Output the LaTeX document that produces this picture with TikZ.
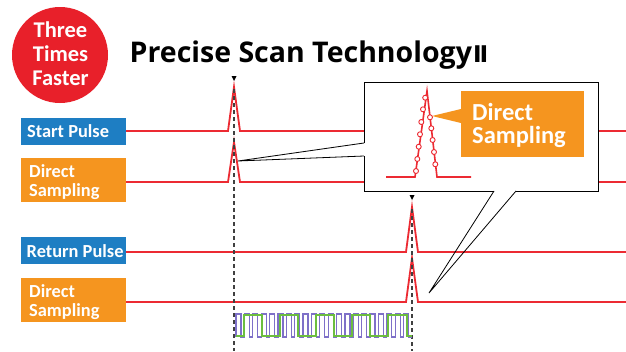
\documentclass[tikz,border=0pt]{standalone}
\usepackage{fontspec}
\newfontfamily\lblfont{Carlito}
\newfontfamily\ttlfont{Open Sans}
\newfontfamily\djvfont{DejaVu Sans}
\definecolor{redc}{HTML}{E8202A}
\definecolor{sigred}{HTML}{EC2A32}
\definecolor{bluec}{HTML}{1E7EC3}
\definecolor{orangec}{HTML}{F5951F}
\definecolor{purplec}{HTML}{7E70C8}
\definecolor{greenc}{HTML}{6CBE3F}
\definecolor{dashc}{HTML}{404040}
\tikzset{
  lblbox/.style={anchor=north west, inner sep=0pt, minimum width=105pt},
  bluelbl/.style={lblbox, fill=bluec, minimum height=27pt},
  orangelbl/.style={lblbox, fill=orangec, minimum height=44pt},
  lbltext/.style={anchor=base west, inner sep=0pt, text=white, font=\lblfont\bfseries\fontsize{18.4}{20}\selectfont},
  sig/.style={sigred, line width=1.8pt, line join=miter},
  vdash/.style={dashc, line width=1.4pt, dash pattern=on 4pt off 3pt},
  marker/.style={fill=black},
  callout/.style={black, line width=0.8pt},
  sample/.style={circle, draw=sigred, fill=white, line width=0.9pt, inner sep=0pt, minimum size=5pt},
}
\begin{document}
\begin{tikzpicture}[x=1pt,y=-1pt]
\useasboundingbox (0,0) rectangle (626,351);
\fill[white] (0,0) rectangle (626,351);

% badge
\node[circle, fill=redc, minimum size=96pt, inner sep=0pt] (badge) at (60,55) {};
\foreach \t/\yy [count=\k] in {Three/37,Times/61,Faster/85}
  \node[anchor=base, inner sep=0pt, text=white, font=\lblfont\bfseries\fontsize{22.5}{24}\selectfont]
    (badge\k) at (60.5,\yy) {\t};

% title
\node[anchor=base west, inner sep=0pt, font=\ttlfont\bfseries\fontsize{28.5}{32}\selectfont] (title) at (129.5,62)
  {Precise Scan Technology};
\node[anchor=base west, inner sep=0pt, font=\djvfont\bfseries\fontsize{23}{25}\selectfont] (titlenum) at (473,62)
  {Ⅱ};

% label boxes
\node[bluelbl] (startbox) at (21,118) {};
\node[orangelbl] (ds1box) at (21,158) {};
\node[bluelbl] (retbox) at (21,237) {};
\node[orangelbl] (ds2box) at (21,278) {};
\node[lbltext] (startlbl) at (27,137) {Start Pulse};
\node[lbltext] (ds1a) at (29,177) {Direct};
\node[lbltext] (ds1b) at (29,196.5) {Sampling};
\node[lbltext] (retlbl) at (26.5,257) {Return Pulse};
\node[lbltext] (ds2a) at (29,297) {Direct};
\node[lbltext] (ds2b) at (29,316.5) {Sampling};

% signals
\draw[sig] (126,131) -- (228,131) -- (234,87) -- (240,131) -- (626,131);
\draw[sig] (126,182) -- (228,182) -- (234,142) -- (240,182) -- (626,182);
\draw[sig] (126,252) -- (406,252) -- (412,207) -- (418,252) -- (626,252);
\draw[sig] (126,302) -- (406,302) -- (412,258) -- (418,302) -- (626,302);

% dashed verticals and markers
\draw[vdash] (234,89) -- (234,351);
\draw[vdash] (412,209) -- (412,351);
\fill[marker] (231.5,76) -- (236.5,76) -- (234,81) -- cycle;
\fill[marker] (409.5,195) -- (414.5,195) -- (412,200) -- cycle;

% clock waves
\draw[purplec, line width=1.2pt] (236,337)
  \foreach \i in {0,...,20} { -- ++(0,-23) -- ++(5,0) -- ++(0,23) -- ++(3.38,0) };
\draw[greenc, line width=1.4pt] (236,336) -- (244,336) -- (244,315) -- (262,315) -- (262,336)
  -- (280,336) -- (280,315) -- (298,315) -- (298,336) -- (316,336) -- (316,315)
  -- (334,315) -- (334,336) -- (352,336) -- (352,315) -- (370,315) -- (370,336)
  -- (388,336) -- (388,315) -- (407,315) -- (407,336) -- (412,336);

% callout box
\coordinate (tipA) at (238,161);
\coordinate (tipB) at (429,293);
\fill[white] (364,82) rectangle (598,191);
\draw[callout] (364,143) -- (364,82) -- (598,82) -- (598,191) -- (516,191);
\draw[callout] (494,191) -- (364,191) -- (364,156);
\draw[callout] (364,143) -- (tipA) -- (364,156);
\draw[callout] (516,191) -- (tipB) -- (494,191);

% zoomed pulse
\draw[sigred, line width=1.6pt] (386,177) -- (415,177) -- (427,91) -- (437,177) -- (471,177);
\foreach \p in {(416,171),(417.3,159),(418.7,146.7),(420,134.3),(421.3,122),(423,109.3),(425.2,97.7),
                (430,117.3),(431.3,128.3),(432.6,140),(434,152),(435.3,164.3)}
  \node[sample] at \p {};

% callout label
\fill[orangec] (461,109) -- (432,116) -- (461,123) -- cycle;
\node[anchor=north west, fill=orangec, minimum width=123pt, minimum height=66pt, inner sep=0pt] (dsbox) at (461,91) {};
\node[lbltext, font=\lblfont\bfseries\fontsize{24.5}{25}\selectfont] (dsa) at (472,120) {Direct};
\node[lbltext, font=\lblfont\bfseries\fontsize{24.5}{25}\selectfont] (dsb) at (472,143.5) {Sampling};
\end{tikzpicture}
\end{document}
